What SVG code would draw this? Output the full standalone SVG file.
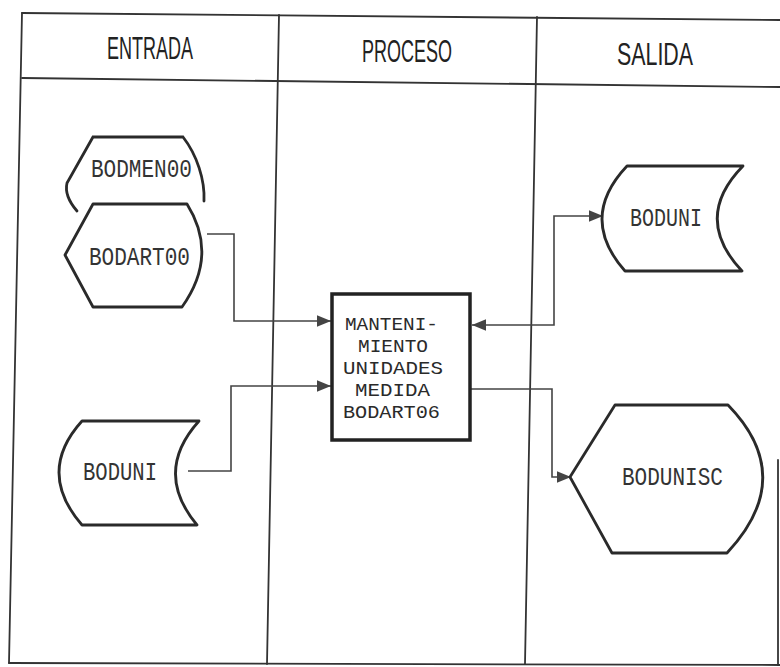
<svg xmlns="http://www.w3.org/2000/svg" width="780" height="667" viewBox="0 0 780 667">
<style>
.tbl{stroke:#333;stroke-width:1.8;fill:none;stroke-linecap:round}
.hdr{font-family:"Liberation Sans",Arial,sans-serif;font-size:32px;fill:#222;text-anchor:middle}
.node{fill:#fff;stroke:#2a2a2a;stroke-width:2.8;stroke-linejoin:round}
.open{fill:none;stroke:#2a2a2a;stroke-width:2.8;stroke-linecap:round}
.lbl{font-family:"Liberation Mono","DejaVu Sans Mono",monospace;font-size:26px;fill:#333;text-anchor:middle}
.blbl{font-family:"Liberation Mono","DejaVu Sans Mono",monospace;font-size:19px;fill:#2a2a2a;text-anchor:middle}
.con{fill:none;stroke:#444;stroke-width:1.6}
</style>
<defs>
<marker id="arr" markerUnits="userSpaceOnUse" markerWidth="14" markerHeight="12" refX="12" refY="5" orient="auto-start-reverse" viewBox="0 0 12 10">
<path d="M0,0 L12,5 L0,10 Z" fill="#444"/>
</marker>
</defs>
<rect width="780" height="667" fill="#fff"/>
<g id="table">
<line class="tbl" x1="22" y1="13" x2="780" y2="20"/>
<line class="tbl" x1="22" y1="78" x2="780" y2="87" stroke-width="2.2"/>
<line class="tbl" x1="22" y1="13" x2="9" y2="663"/>
<line class="tbl" x1="9" y1="663" x2="780" y2="665"/>
<line class="tbl" x1="279" y1="15" x2="267" y2="664"/>
<line class="tbl" x1="537" y1="17" x2="525" y2="664"/>
<line class="tbl" x1="778" y1="460" x2="778" y2="665" stroke-width="1.4"/>
<text class="hdr" x="150" y="58.5" textLength="86" lengthAdjust="spacingAndGlyphs">ENTRADA</text>
<text class="hdr" x="407" y="61.5" textLength="90" lengthAdjust="spacingAndGlyphs">PROCESO</text>
<text class="hdr" x="655" y="65" textLength="76" lengthAdjust="spacingAndGlyphs">SALIDA</text>
</g>
<g id="connectors">
<path class="con" d="M207,234 H234 V321 H331" marker-end="url(#arr)"/>
<path class="con" d="M188,471 H231 V386 H331" marker-end="url(#arr)"/>
<path class="con" d="M472,325 H554 V216 H603" marker-start="url(#arr)" marker-end="url(#arr)"/>
<path class="con" d="M471,389 H552 V477 H571" marker-end="url(#arr)"/>
</g>
<g id="bodmen00">
<path class="open" d="M77,211 Q64,196 67,183 L93,137 H183 C197,155 205,180 204,201"/>
<text class="lbl" x="141.5" y="177" textLength="101" lengthAdjust="spacingAndGlyphs">BODMEN00</text>
</g>
<g id="bodart00">
<path class="node" d="M93,204 H187 Q219,255 182,307 H93 L65,255 Z"/>
<text class="lbl" x="139.5" y="265" textLength="101" lengthAdjust="spacingAndGlyphs">BODART00</text>
</g>
<g id="boduni-in">
<path class="node" d="M82,421 H199 Q153,472 197,525 H82 Q36,472 82,421 Z"/>
<text class="lbl" x="120" y="480" textLength="74" lengthAdjust="spacingAndGlyphs">BODUNI</text>
</g>
<g id="proceso">
<rect x="332" y="294" width="138" height="146" fill="#fff" stroke="#222" stroke-width="3.5"/>
<text class="blbl" x="391.5" y="329.5" textLength="93" lengthAdjust="spacingAndGlyphs">MANTENI-</text>
<text class="blbl" x="393" y="351.5" textLength="70" lengthAdjust="spacingAndGlyphs">MIENTO</text>
<text class="blbl" x="393" y="373.5" textLength="100" lengthAdjust="spacingAndGlyphs">UNIDADES</text>
<text class="blbl" x="392.5" y="395.5" textLength="75" lengthAdjust="spacingAndGlyphs">MEDIDA</text>
<text class="blbl" x="391.5" y="417.5" textLength="97" lengthAdjust="spacingAndGlyphs">BODART06</text>
</g>
<g id="boduni-out">
<path class="node" d="M627,166 H743 Q692,218 742,271 H625 Q578,218 627,166 Z"/>
<text class="lbl" x="666" y="226" textLength="72" lengthAdjust="spacingAndGlyphs">BODUNI</text>
</g>
<g id="bodunisc">
<path class="node" d="M615,405 H728 Q798,477 727,553 H612 L570,477 Z"/>
<text class="lbl" x="672.5" y="485" textLength="101" lengthAdjust="spacingAndGlyphs">BODUNISC</text>
</g>
</svg>
